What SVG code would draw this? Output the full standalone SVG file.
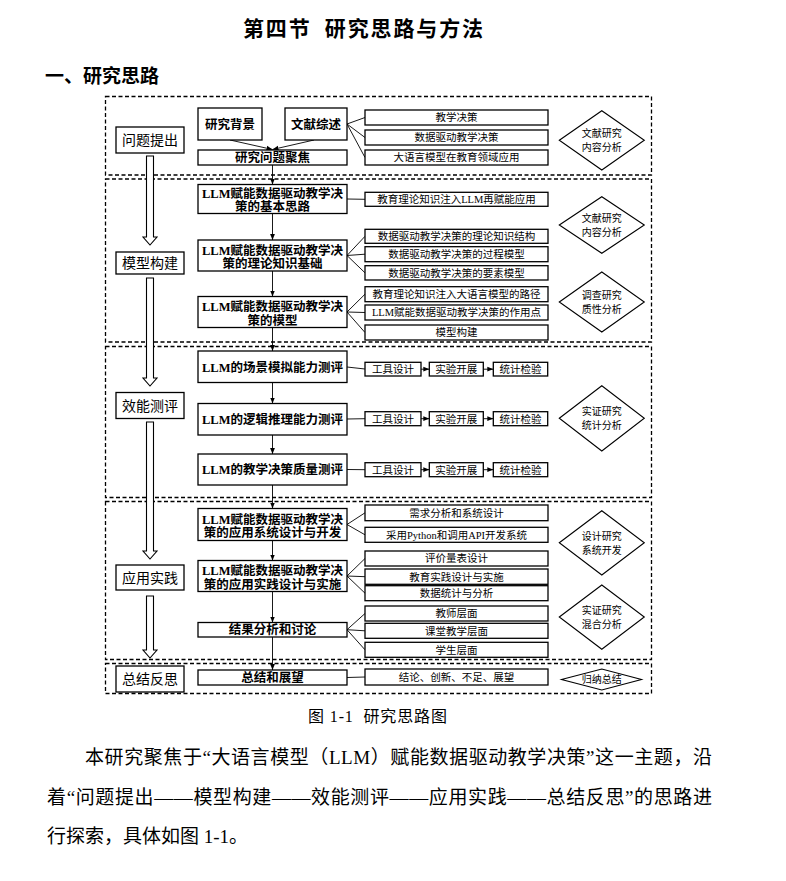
<svg xmlns="http://www.w3.org/2000/svg" width="786" height="881" viewBox="0 0 786 881">
<style>
.sec{fill:none;stroke:#000;stroke-width:1.3;stroke-dasharray:4 2.5}
.box{fill:#fff;stroke:#000;stroke-width:1.3}
.ln{stroke:#000;stroke-width:0.9;fill:none}
.hol{fill:#fff;stroke:#000;stroke-width:1.1}
.dia{fill:#fff;stroke:#000;stroke-width:1.1}
text{fill:#000;text-anchor:middle}
.tm{font-family:"Liberation Serif","Noto Sans CJK SC",serif;font-size:12.5px;font-weight:bold}
.ts{font-family:"Liberation Serif","Noto Sans CJK SC",serif;font-size:10.5px}
.tg{font-family:"Noto Sans CJK SC",sans-serif;font-size:14px}
.td{font-family:"Noto Sans CJK SC",sans-serif;font-size:10px}
.h1{font-family:"Noto Sans CJK SC",sans-serif;font-size:21px;font-weight:bold;text-anchor:start}
.h2{font-family:"Noto Sans CJK SC",sans-serif;font-size:19px;font-weight:bold;text-anchor:start}
.cap{font-family:"Liberation Serif","Noto Sans CJK SC",serif;font-size:16px;text-anchor:start}
.body{font-family:"Liberation Serif","Noto Sans CJK SC",serif;font-size:19px;text-anchor:start}
</style>
<defs>
<marker id="ah" viewBox="0 0 6 6" refX="6" refY="3" markerWidth="6" markerHeight="6" markerUnits="userSpaceOnUse" orient="auto"><path d="M0,0.6 L6,3 L0,5.4 Z" fill="#000"/></marker>
</defs>
<rect width="786" height="881" fill="#fff"/>

<text class="h1" x="243" y="36" xml:space="preserve" textLength="240" lengthAdjust="spacing">第四节  研究思路与方法</text>
<text class="h2" x="45" y="83">一、研究思路</text>

<g id="sections">
<rect class="sec" x="105.5" y="96.5" width="546" height="78.5"/>
<rect class="sec" x="105.5" y="179" width="546" height="163"/>
<rect class="sec" x="105.5" y="346.5" width="546" height="151"/>
<rect class="sec" x="105.5" y="501.5" width="546" height="158"/>
<rect class="sec" x="105.5" y="663.5" width="546" height="30"/>
</g>

<g id="connectors">
<path class="hol" d="M146.5,156 H153.5 V237 H157 L150,245 L143,237 H146.5 Z"/>
<path class="hol" d="M146.5,278 H153.5 V378 H157 L150,386 L143,378 H146.5 Z"/>
<path class="hol" d="M146.5,422 H153.5 V551 H157 L150,559 L143,551 H146.5 Z"/>
<path class="hol" d="M146.5,596 H153.5 V650 H157 L150,658 L143,650 H146.5 Z"/>

<line class="ln" x1="230" y1="140" x2="272.5" y2="149.5" marker-end="url(#ah)"/>
<line class="ln" x1="314" y1="140" x2="272.5" y2="149.5" marker-end="url(#ah)"/>
<line class="ln" x1="272.5" y1="165" x2="272.5" y2="184.5" marker-end="url(#ah)"/>
<line class="ln" x1="272.5" y1="213.5" x2="272.5" y2="240" marker-end="url(#ah)"/>
<line class="ln" x1="272.5" y1="271" x2="272.5" y2="296.5" marker-end="url(#ah)"/>
<line class="ln" x1="272.5" y1="327.5" x2="272.5" y2="351" marker-end="url(#ah)"/>
<line class="ln" x1="272.5" y1="382.5" x2="272.5" y2="403.5" marker-end="url(#ah)"/>
<line class="ln" x1="272.5" y1="435" x2="272.5" y2="454" marker-end="url(#ah)"/>
<line class="ln" x1="272.5" y1="485" x2="272.5" y2="508.5" marker-end="url(#ah)"/>
<line class="ln" x1="272.5" y1="540.5" x2="272.5" y2="560.5" marker-end="url(#ah)"/>
<line class="ln" x1="272.5" y1="591.5" x2="272.5" y2="622.5" marker-end="url(#ah)"/>
<line class="ln" x1="272.5" y1="637" x2="272.5" y2="670" marker-end="url(#ah)"/>

<path class="ln" d="M347,124 L365,117.5 M347,124 L365,137.5 M347,124 L365,157.5"/>
<path class="ln" d="M347,199 L365,199.3"/>
<path class="ln" d="M347,255.5 L365,236.3 M347,255.5 L365,254.2 M347,255.5 L365,272.8"/>
<path class="ln" d="M347,312 L365,294.2 M347,312 L365,312.5 M347,312 L365,332.5"/>
<path class="ln" d="M347,367 L365,369 M347,419 L365,418.7 M347,469.5 L365,469.7"/>
<path class="ln" d="M347,524.5 L365,512.8 M347,524.5 L365,534.8"/>
<path class="ln" d="M347,576 L365,558.5 M347,576 L365,576.7 M347,576 L365,593.2"/>
<path class="ln" d="M347,629.7 L365,613.5 M347,629.7 L365,630.8 M347,629.7 L365,649.8"/>
<path class="ln" d="M347,677.5 L365,677"/>

<line class="ln" x1="421" y1="369.2" x2="429.3" y2="369.2" marker-end="url(#ah)"/>
<line class="ln" x1="483.3" y1="369.2" x2="493.3" y2="369.2" marker-end="url(#ah)"/>
<line class="ln" x1="421" y1="418.7" x2="429.3" y2="418.7" marker-end="url(#ah)"/>
<line class="ln" x1="483.3" y1="418.7" x2="493.3" y2="418.7" marker-end="url(#ah)"/>
<line class="ln" x1="421" y1="469.7" x2="429.3" y2="469.7" marker-end="url(#ah)"/>
<line class="ln" x1="483.3" y1="469.7" x2="493.3" y2="469.7" marker-end="url(#ah)"/>
</g>

<g id="stage-1"><rect class="box" x="116" y="127" width="68" height="26"/><text class="tg" x="150" y="145">问题提出</text></g>
<g id="stage-2"><rect class="box" x="116" y="252" width="68" height="22"/><text class="tg" x="150" y="268">模型构建</text></g>
<g id="stage-3"><rect class="box" x="116" y="392.5" width="68" height="26"/><text class="tg" x="150" y="410.5">效能测评</text></g>
<g id="stage-4"><rect class="box" x="116" y="565" width="68" height="25"/><text class="tg" x="150" y="582.5">应用实践</text></g>
<g id="stage-5"><rect class="box" x="116" y="666" width="68" height="26"/><text class="tg" x="150" y="684">总结反思</text></g>

<g id="m-bg"><rect class="box" x="198" y="108" width="64" height="32"/><text class="tm" x="230" y="128.5">研究背景</text></g>
<g id="m-lit"><rect class="box" x="285" y="108" width="62" height="32"/><text class="tm" x="316" y="128.5">文献综述</text></g>
<g id="m-focus"><rect class="box" x="198" y="150" width="149" height="15"/><text class="tm" x="272.5" y="162">研究问题聚焦</text></g>
<g id="m-basic"><rect class="box" x="198" y="184.5" width="149" height="29"/><text class="tm" x="272.5" y="198">LLM赋能数据驱动教学决</text><text class="tm" x="272.5" y="211">策的基本思路</text></g>
<g id="m-theory"><rect class="box" x="198" y="240" width="149" height="31"/><text class="tm" x="272.5" y="254.5">LLM赋能数据驱动教学决</text><text class="tm" x="272.5" y="268">策的理论知识基础</text></g>
<g id="m-model"><rect class="box" x="198" y="296.5" width="149" height="31"/><text class="tm" x="272.5" y="311">LLM赋能数据驱动教学决</text><text class="tm" x="272.5" y="324.5">策的模型</text></g>
<g id="m-scene"><rect class="box" x="198" y="351" width="149" height="31.5"/><text class="tm" x="272.5" y="371.5">LLM的场景模拟能力测评</text></g>
<g id="m-logic"><rect class="box" x="198" y="403.5" width="149" height="31.5"/><text class="tm" x="272.5" y="423.5">LLM的逻辑推理能力测评</text></g>
<g id="m-quality"><rect class="box" x="198" y="454" width="149" height="31"/><text class="tm" x="272.5" y="474">LLM的教学决策质量测评</text></g>
<g id="m-sys"><rect class="box" x="198" y="508.5" width="149" height="32"/><text class="tm" x="272.5" y="523.5">LLM赋能数据驱动教学决</text><text class="tm" x="272.5" y="537">策的应用系统设计与开发</text></g>
<g id="m-prac"><rect class="box" x="198" y="560.5" width="149" height="31"/><text class="tm" x="272.5" y="575">LLM赋能数据驱动教学决</text><text class="tm" x="272.5" y="588.5">策的应用实践设计与实施</text></g>
<g id="m-result"><rect class="box" x="198" y="622.5" width="149" height="14.5"/><text class="tm" x="272.5" y="634.3">结果分析和讨论</text></g>
<g id="m-sum"><rect class="box" x="198" y="670" width="149" height="15"/><text class="tm" x="272.5" y="682">总结和展望</text></g>

<g id="r1"><rect class="box" x="365" y="110" width="183" height="15"/><text class="ts" x="456.5" y="121.3">教学决策</text></g>
<g id="r2"><rect class="box" x="365" y="130" width="183" height="15"/><text class="ts" x="456.5" y="141.3">数据驱动教学决策</text></g>
<g id="r3"><rect class="box" x="365" y="150" width="183" height="15"/><text class="ts" x="456.5" y="161.3">大语言模型在教育领域应用</text></g>
<g id="r4"><rect class="box" x="365" y="192.3" width="183" height="14"/><text class="ts" x="456.5" y="203.1">教育理论知识注入LLM再赋能应用</text></g>
<g id="r5"><rect class="box" x="365" y="229.3" width="183" height="14"/><text class="ts" x="456.5" y="240.1">数据驱动教学决策的理论知识结构</text></g>
<g id="r6"><rect class="box" x="365" y="246.7" width="183" height="15"/><text class="ts" x="456.5" y="258">数据驱动教学决策的过程模型</text></g>
<g id="r7"><rect class="box" x="365" y="265.7" width="183" height="14.3"/><text class="ts" x="456.5" y="276.7">数据驱动教学决策的要素模型</text></g>
<g id="r8"><rect class="box" x="365" y="286.7" width="183" height="15"/><text class="ts" x="456.5" y="298">教育理论知识注入大语言模型的路径</text></g>
<g id="r9"><rect class="box" x="365" y="305" width="183" height="15"/><text class="ts" x="456.5" y="316.3">LLM赋能数据驱动教学决策的作用点</text></g>
<g id="r10"><rect class="box" x="365" y="325" width="183" height="15"/><text class="ts" x="456.5" y="336.3">模型构建</text></g>

<g id="e1a"><rect class="box" x="365" y="362.3" width="56" height="13.7"/><text class="ts" x="393" y="373">工具设计</text></g>
<g id="e1b"><rect class="box" x="429.3" y="362.3" width="54" height="13.7"/><text class="ts" x="456.3" y="373">实验开展</text></g>
<g id="e1c"><rect class="box" x="493.3" y="362.3" width="54.4" height="13.7"/><text class="ts" x="520.5" y="373">统计检验</text></g>
<g id="e2a"><rect class="box" x="365" y="411.7" width="56" height="14"/><text class="ts" x="393" y="422.5">工具设计</text></g>
<g id="e2b"><rect class="box" x="429.3" y="411.7" width="54" height="14"/><text class="ts" x="456.3" y="422.5">实验开展</text></g>
<g id="e2c"><rect class="box" x="493.3" y="411.7" width="54.4" height="14"/><text class="ts" x="520.5" y="422.5">统计检验</text></g>
<g id="e3a"><rect class="box" x="365" y="462.7" width="56" height="14"/><text class="ts" x="393" y="473.5">工具设计</text></g>
<g id="e3b"><rect class="box" x="429.3" y="462.7" width="54" height="14"/><text class="ts" x="456.3" y="473.5">实验开展</text></g>
<g id="e3c"><rect class="box" x="493.3" y="462.7" width="54.4" height="14"/><text class="ts" x="520.5" y="473.5">统计检验</text></g>

<g id="r11"><rect class="box" x="365" y="505" width="183" height="15.7"/><text class="ts" x="456.5" y="516.6">需求分析和系统设计</text></g>
<g id="r12"><rect class="box" x="365" y="527.3" width="183" height="15"/><text class="ts" x="456.5" y="538.6">采用Python和调用API开发系统</text></g>
<g id="r13"><rect class="box" x="365" y="551" width="183" height="15"/><text class="ts" x="456.5" y="562.3">评价量表设计</text></g>
<g id="r14"><rect class="box" x="365" y="569" width="183" height="15.3"/><text class="ts" x="456.5" y="580.5">教育实践设计与实施</text></g>
<g id="r15"><rect class="box" x="365" y="585.7" width="183" height="15"/><text class="ts" x="456.5" y="597">数据统计与分析</text></g>
<g id="r16"><rect class="box" x="365" y="606" width="183" height="15"/><text class="ts" x="456.5" y="617.3">教师层面</text></g>
<g id="r17"><rect class="box" x="365" y="623.3" width="183" height="15"/><text class="ts" x="456.5" y="634.6">课堂教学层面</text></g>
<g id="r18"><rect class="box" x="365" y="642.3" width="183" height="15"/><text class="ts" x="456.5" y="653.6">学生层面</text></g>
<g id="r19"><rect class="box" x="365" y="669" width="183" height="16"/><text class="ts" x="456.5" y="680.8">结论、创新、不足、展望</text></g>

<g id="d1"><polygon class="dia" points="559.3,140.3 601.8,110.7 644.3,140.3 601.8,170"/><text class="td" x="601.8" y="137">文献研究</text><text class="td" x="601.8" y="151">内容分析</text></g>
<g id="d2"><polygon class="dia" points="559.3,225 601.8,196.7 644.3,225 601.8,253.3"/><text class="td" x="601.8" y="221.7">文献研究</text><text class="td" x="601.8" y="235.7">内容分析</text></g>
<g id="d3"><polygon class="dia" points="559.3,302 601.8,272 644.3,302 601.8,332"/><text class="td" x="601.8" y="298.7">调查研究</text><text class="td" x="601.8" y="312.7">质性分析</text></g>
<g id="d4"><polygon class="dia" points="559.3,418.3 601.8,385.7 644.3,418.3 601.8,451"/><text class="td" x="601.8" y="415">实证研究</text><text class="td" x="601.8" y="429">统计分析</text></g>
<g id="d5"><polygon class="dia" points="559.3,542.8 601.8,510.7 644.3,542.8 601.8,575"/><text class="td" x="601.8" y="539.5">设计研究</text><text class="td" x="601.8" y="553.5">系统开发</text></g>
<g id="d6"><polygon class="dia" points="559.3,617 601.8,585 644.3,617 601.8,649.3"/><text class="td" x="601.8" y="613.7">实证研究</text><text class="td" x="601.8" y="627.7">混合分析</text></g>
<g id="d7"><polygon class="dia" points="561.5,679.5 601.8,669 641.5,679.5 601.8,690"/><text class="td" x="601.8" y="683.2">归纳总结</text></g>

<text class="cap" x="308" y="722" xml:space="preserve" textLength="139" lengthAdjust="spacing">图 1-1  研究思路图</text>
<text class="body" x="85" y="764" textLength="627" lengthAdjust="spacing">本研究聚焦于“大语言模型（LLM）赋能数据驱动教学决策”这一主题，沿</text>
<text class="body" x="47" y="804" textLength="665" lengthAdjust="spacing">着“问题提出——模型构建——效能测评——应用实践——总结反思”的思路进</text>
<text class="body" x="47" y="843">行探索，具体如图 1-1。</text>
</svg>
